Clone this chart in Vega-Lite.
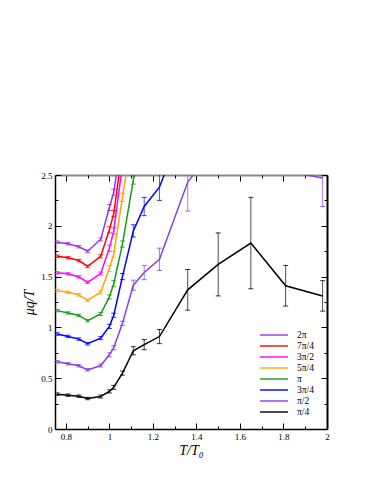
{
  "$schema": "https://vega.github.io/schema/vega-lite/v6.json",
  "width": 272,
  "height": 254,
  "autosize": {"type": "none"},
  "padding": {"left": 55, "top": 175, "right": 47, "bottom": 55},
  "background": "white",
  "config": {
    "view": {"stroke": null},
    "axis": {"labelFont": "Liberation Serif", "titleFont": "Liberation Serif", "labelFontSize": 9, "labelColor": "#000", "tickColor": "#000", "domainColor": "#000", "grid": false, "labelFlush": false, "labelOverlap": false, "titleFontWeight": "normal", "titleColor": "#000"}
  },
  "data": {"values": [
    {"s":"2π","T":0.76,"v":1.839,"lo":1.827,"hi":1.851},
    {"s":"2π","T":0.81,"v":1.823,"lo":1.811,"hi":1.835},
    {"s":"2π","T":0.86,"v":1.794,"lo":1.782,"hi":1.806},
    {"s":"2π","T":0.90,"v":1.750,"lo":1.738,"hi":1.762},
    {"s":"2π","T":0.96,"v":1.866,"lo":1.851,"hi":1.881},
    {"s":"2π","T":1.00,"v":2.18,"lo":2.15,"hi":2.21},
    {"s":"2π","T":1.02,"v":2.33,"lo":2.30,"hi":2.36},
    {"s":"2π","T":1.06,"v":2.90,"lo":2.86,"hi":2.94},
    {"s":"7π/4","T":0.76,"v":1.700,"lo":1.688,"hi":1.712},
    {"s":"7π/4","T":0.81,"v":1.685,"lo":1.673,"hi":1.697},
    {"s":"7π/4","T":0.86,"v":1.658,"lo":1.646,"hi":1.670},
    {"s":"7π/4","T":0.90,"v":1.600,"lo":1.588,"hi":1.612},
    {"s":"7π/4","T":0.96,"v":1.700,"lo":1.685,"hi":1.715},
    {"s":"7π/4","T":1.00,"v":1.96,"lo":1.93,"hi":1.99},
    {"s":"7π/4","T":1.02,"v":2.12,"lo":2.09,"hi":2.15},
    {"s":"7π/4","T":1.06,"v":2.75,"lo":2.71,"hi":2.79},
    {"s":"3π/2","T":0.76,"v":1.537,"lo":1.525,"hi":1.549},
    {"s":"3π/2","T":0.81,"v":1.527,"lo":1.515,"hi":1.539},
    {"s":"3π/2","T":0.86,"v":1.497,"lo":1.485,"hi":1.509},
    {"s":"3π/2","T":0.90,"v":1.444,"lo":1.432,"hi":1.456},
    {"s":"3π/2","T":0.96,"v":1.530,"lo":1.515,"hi":1.545},
    {"s":"3π/2","T":1.00,"v":1.78,"lo":1.75,"hi":1.81},
    {"s":"3π/2","T":1.02,"v":1.95,"lo":1.92,"hi":1.98},
    {"s":"3π/2","T":1.06,"v":2.60,"lo":2.56,"hi":2.64},
    {"s":"5π/4","T":0.76,"v":1.362,"lo":1.350,"hi":1.374},
    {"s":"5π/4","T":0.81,"v":1.346,"lo":1.334,"hi":1.358},
    {"s":"5π/4","T":0.86,"v":1.320,"lo":1.308,"hi":1.332},
    {"s":"5π/4","T":0.90,"v":1.267,"lo":1.255,"hi":1.279},
    {"s":"5π/4","T":0.96,"v":1.346,"lo":1.331,"hi":1.361},
    {"s":"5π/4","T":1.00,"v":1.58,"lo":1.55,"hi":1.61},
    {"s":"5π/4","T":1.02,"v":1.72,"lo":1.69,"hi":1.75},
    {"s":"5π/4","T":1.06,"v":2.28,"lo":2.24,"hi":2.32},
    {"s":"5π/4","T":1.11,"v":2.95,"lo":2.90,"hi":3.00},
    {"s":"π","T":0.76,"v":1.165,"lo":1.153,"hi":1.177},
    {"s":"π","T":0.81,"v":1.142,"lo":1.130,"hi":1.154},
    {"s":"π","T":0.86,"v":1.118,"lo":1.106,"hi":1.130},
    {"s":"π","T":0.90,"v":1.066,"lo":1.054,"hi":1.078},
    {"s":"π","T":0.96,"v":1.132,"lo":1.117,"hi":1.147},
    {"s":"π","T":1.00,"v":1.30,"lo":1.28,"hi":1.32},
    {"s":"π","T":1.02,"v":1.43,"lo":1.40,"hi":1.46},
    {"s":"π","T":1.06,"v":1.82,"lo":1.79,"hi":1.85},
    {"s":"π","T":1.11,"v":2.45,"lo":2.41,"hi":2.49},
    {"s":"π","T":1.16,"v":2.95,"lo":2.90,"hi":3.00},
    {"s":"3π/4","T":0.76,"v":0.935,"lo":0.923,"hi":0.947},
    {"s":"3π/4","T":0.81,"v":0.911,"lo":0.899,"hi":0.923},
    {"s":"3π/4","T":0.86,"v":0.885,"lo":0.873,"hi":0.897},
    {"s":"3π/4","T":0.90,"v":0.839,"lo":0.827,"hi":0.851},
    {"s":"3π/4","T":0.96,"v":0.895,"lo":0.880,"hi":0.910},
    {"s":"3π/4","T":1.00,"v":1.01,"lo":0.99,"hi":1.03},
    {"s":"3π/4","T":1.02,"v":1.12,"lo":1.10,"hi":1.14},
    {"s":"3π/4","T":1.06,"v":1.50,"lo":1.47,"hi":1.53},
    {"s":"3π/4","T":1.11,"v":1.95,"lo":1.89,"hi":2.01},
    {"s":"3π/4","T":1.16,"v":2.19,"lo":2.10,"hi":2.28},
    {"s":"3π/4","T":1.23,"v":2.38,"lo":2.25,"hi":2.51},
    {"s":"3π/4","T":1.36,"v":3.10,"lo":2.90,"hi":3.30},
    {"s":"π/2","T":0.76,"v":0.661,"lo":0.649,"hi":0.673},
    {"s":"π/2","T":0.81,"v":0.642,"lo":0.630,"hi":0.654},
    {"s":"π/2","T":0.86,"v":0.622,"lo":0.610,"hi":0.634},
    {"s":"π/2","T":0.90,"v":0.582,"lo":0.570,"hi":0.594},
    {"s":"π/2","T":0.96,"v":0.625,"lo":0.610,"hi":0.640},
    {"s":"π/2","T":1.00,"v":0.73,"lo":0.71,"hi":0.75},
    {"s":"π/2","T":1.02,"v":0.80,"lo":0.78,"hi":0.82},
    {"s":"π/2","T":1.06,"v":1.04,"lo":1.02,"hi":1.06},
    {"s":"π/2","T":1.11,"v":1.415,"lo":1.365,"hi":1.465},
    {"s":"π/2","T":1.16,"v":1.54,"lo":1.47,"hi":1.61},
    {"s":"π/2","T":1.23,"v":1.67,"lo":1.56,"hi":1.78},
    {"s":"π/2","T":1.36,"v":2.43,"lo":2.145,"hi":2.715},
    {"s":"π/2","T":1.50,"v":2.82,"lo":2.55,"hi":3.09},
    {"s":"π/2","T":1.65,"v":2.80,"lo":2.55,"hi":3.05},
    {"s":"π/2","T":1.81,"v":2.54,"lo":2.51,"hi":2.57},
    {"s":"π/2","T":1.98,"v":2.47,"lo":2.19,"hi":2.75},
    {"s":"π/4","T":0.76,"v":0.343,"lo":0.331,"hi":0.355},
    {"s":"π/4","T":0.81,"v":0.333,"lo":0.321,"hi":0.345},
    {"s":"π/4","T":0.86,"v":0.323,"lo":0.311,"hi":0.335},
    {"s":"π/4","T":0.90,"v":0.300,"lo":0.288,"hi":0.312},
    {"s":"π/4","T":0.96,"v":0.320,"lo":0.305,"hi":0.335},
    {"s":"π/4","T":1.00,"v":0.37,"lo":0.355,"hi":0.385},
    {"s":"π/4","T":1.02,"v":0.41,"lo":0.39,"hi":0.43},
    {"s":"π/4","T":1.06,"v":0.55,"lo":0.53,"hi":0.57},
    {"s":"π/4","T":1.11,"v":0.77,"lo":0.73,"hi":0.81},
    {"s":"π/4","T":1.16,"v":0.83,"lo":0.78,"hi":0.88},
    {"s":"π/4","T":1.23,"v":0.91,"lo":0.84,"hi":0.98},
    {"s":"π/4","T":1.36,"v":1.37,"lo":1.17,"hi":1.57},
    {"s":"π/4","T":1.50,"v":1.62,"lo":1.31,"hi":1.93},
    {"s":"π/4","T":1.65,"v":1.83,"lo":1.38,"hi":2.28},
    {"s":"π/4","T":1.81,"v":1.41,"lo":1.21,"hi":1.61},
    {"s":"π/4","T":1.98,"v":1.31,"lo":1.16,"hi":1.46}
  ]},
  "resolve": {"axis": {"x": "independent", "y": "independent"}},
  "layer": [
    {
      "mark": {"type": "line", "clip": true, "strokeWidth": 1.5},
      "encoding": {
        "x": {"field": "T", "type": "quantitative", "scale": {"domain": [0.75, 2], "nice": false, "zero": false},
              "axis": {"orient": "bottom", "values": [0.8, 1, 1.2, 1.4, 1.6, 1.8, 2], "format": "~g", "tickSize": -6, "labelPadding": 9, "domainWidth": 1.5,
                       "title": "T/T₀", "titleFontSize": 14, "titleFontStyle": "italic", "titlePadding": 2}},
        "y": {"field": "v", "type": "quantitative", "scale": {"domain": [0, 2.5], "nice": false, "zero": false},
              "axis": {"orient": "left", "values": [0, 0.5, 1, 1.5, 2, 2.5], "format": "~g", "tickSize": -6, "labelPadding": 9, "domainWidth": 1.5,
                       "title": "μq/T", "titleFontSize": 14, "titleFontStyle": "italic", "titlePadding": 4}},
        "color": {"field": "s", "type": "nominal",
                  "scale": {"domain": ["2π", "7π/4", "3π/2", "5π/4", "π", "3π/4", "π/2", "π/4"],
                            "range": ["#a030f0", "#ff0000", "#ff00ff", "#ffa500", "#1a9a1a", "#0000ff", "#8b3fd9", "#000000"]},
                  "legend": {"orient": "none", "legendX": 213, "legendY": 154, "direction": "vertical", "title": null,
                             "symbolType": "M-2.8,0H2.8", "symbolSize": 100, "symbolStrokeWidth": 2, "labelFont": "Liberation Serif", "labelFontSize": 9.5,
                             "labelOffset": 17, "rowPadding": -0.9, "padding": 0, "labelColor": "#000"}}
      }
    },
    {
      "mark": {"type": "rule", "clip": true, "strokeWidth": 1, "opacity": 0.7},
      "encoding": {
        "x": {"field": "T", "type": "quantitative",
              "axis": {"orient": "bottom", "values": [0.9, 1.1, 1.3, 1.5, 1.7, 1.9], "labels": false, "domain": false, "tickSize": -3, "title": null}},
        "y": {"field": "lo", "type": "quantitative",
              "axis": {"orient": "left", "values": [0.25, 0.75, 1.25, 1.75, 2.25], "labels": false, "domain": false, "tickSize": -3, "title": null}},
        "y2": {"field": "hi"},
        "color": {"field": "s", "type": "nominal"}
      }
    },
    {
      "mark": {"type": "tick", "clip": true, "orient": "horizontal", "size": 5, "thickness": 1, "opacity": 0.8},
      "encoding": {
        "x": {"field": "T", "type": "quantitative",
              "axis": {"orient": "top", "values": [0.8, 1, 1.2, 1.4, 1.6, 1.8, 2], "labels": false, "domainColor": "#888888", "domainWidth": 2, "tickSize": -6, "title": null}},
        "y": {"field": "lo", "type": "quantitative",
              "axis": {"orient": "right", "values": [0, 0.5, 1, 1.5, 2, 2.5], "labels": false, "domainWidth": 2, "tickSize": -6, "title": null}},
        "color": {"field": "s", "type": "nominal"}
      }
    },
    {
      "mark": {"type": "tick", "clip": true, "orient": "horizontal", "size": 5, "thickness": 1, "opacity": 0.8},
      "encoding": {
        "x": {"field": "T", "type": "quantitative",
              "axis": {"orient": "top", "values": [0.9, 1.1, 1.3, 1.5, 1.7, 1.9], "labels": false, "domain": false, "tickSize": -3, "title": null}},
        "y": {"field": "hi", "type": "quantitative",
              "axis": {"orient": "right", "values": [0.25, 0.75, 1.25, 1.75, 2.25], "labels": false, "domain": false, "tickSize": -3, "title": null}},
        "color": {"field": "s", "type": "nominal"}
      }
    }
  ]
}
